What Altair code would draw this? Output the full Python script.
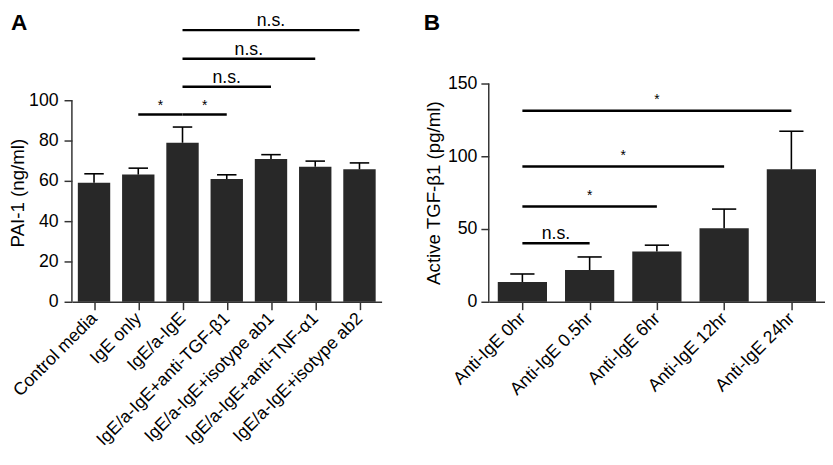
import json
import altair as alt
import pandas as pd

# ---------------- data ----------------
a_categories = ["Control media", "IgE only", "IgE/a-IgE", "IgE/a-IgE+anti-TGF-β1",
                "IgE/a-IgE+isotype ab1", "IgE/a-IgE+anti-TNF-α1", "IgE/a-IgE+isotype ab2"]
a_means = [59.0, 63.1, 78.9, 60.9, 70.9, 67.0, 65.7]
a_errors = [4.5, 3.2, 7.8, 2.1, 2.1, 2.8, 3.2]
a_sig_from = [1, 2, 2, 2, 2]
a_sig_to = [2, 3, 4, 5, 6]
a_sig_text = ["*", "*", "n.s.", "n.s.", "n.s."]
a_sig_level = [92.9, 92.9, 106.7, 120.6, 134.8]
a_axis_max = 100

b_categories = ["Anti-IgE 0hr", "Anti-IgE 0.5hr", "Anti-IgE 6hr", "Anti-IgE 12hr", "Anti-IgE 24hr"]
b_means = [13.6, 21.8, 34.5, 50.5, 91.0]
b_errors = [5.5, 9.0, 4.4, 13.2, 26.2]
b_sig_from = [0, 0, 0, 0]
b_sig_to = [1, 2, 3, 4]
b_sig_text = ["n.s.", "*", "*", "*"]
b_sig_level = [40.2, 65.5, 93.0, 131.3]
b_axis_max = 150

FONT = "Liberation Sans"
BAR_COLOR = "#282828"
AXIS_COLOR = "#333333"
HEIGHT = 222
A_SPAN = 205  # pixels covered by panel A's 0..100 axis


def panel(cats, means, errs, s_from, s_to, s_text, s_level, axis_max, scale_max, yvalues,
          ytitle, letter, width, letter_x, letter_y, cap_half, title_pad, label_pad, star_dy):
    n = len(cats)
    bars = pd.DataFrame({"i": list(range(n)), "cat": cats, "mean": means, "err": errs})
    sig = pd.DataFrame({"a": s_from, "b": s_to, "text": s_text, "level": s_level})

    xscale = alt.Scale(domain=[-0.5, n - 0.5], nice=False, zero=False)
    yscale = alt.Scale(domain=[0, scale_max], nice=False)
    xaxis = alt.Axis(values=list(range(n)), labelExpr=json.dumps(cats) + "[datum.value]",
                     labelAngle=-45, labelAlign="right", labelBaseline="middle",
                     labelOverlap=False, labelFlush=False, labelBound=False,
                     labelLimit=400, title=None, grid=False, labelPadding=6)
    yaxis = alt.Axis(values=yvalues, grid=False, domain=False, titlePadding=title_pad,
                     labelPadding=label_pad)

    base = alt.Chart(bars).transform_calculate(
        lo="datum.i - 0.366", hi="datum.i + 0.366", top="datum.mean + datum.err",
        clo="datum.i - " + str(cap_half), chi="datum.i + " + str(cap_half))

    bar = base.mark_bar(color=BAR_COLOR).encode(
        x=alt.X("lo:Q", scale=xscale, axis=xaxis),
        x2="hi:Q",
        y=alt.Y("mean:Q", scale=yscale, axis=yaxis, title=ytitle),
        y2=alt.datum(0),
    )
    err = base.mark_rule(color="black", strokeWidth=1.6).encode(
        x="i:Q", y="mean:Q", y2="top:Q")
    cap = base.mark_rule(color="black", strokeWidth=1.6).encode(
        x="clo:Q", x2="chi:Q", y="top:Q")

    # y-axis line, from 0 to the last labelled value
    yline = alt.Chart(pd.DataFrame({"lo": [0], "hi": [axis_max]})).mark_rule(
        color=AXIS_COLOR, strokeWidth=1.5).encode(
        x=alt.value(0), y="lo:Q", y2="hi:Q")

    sbase = alt.Chart(sig).transform_calculate(mid="(datum.a + datum.b) / 2")
    lines = sbase.mark_rule(color="black", strokeWidth=2.4).encode(
        x="a:Q", x2="b:Q", y="level:Q")
    ns = sbase.transform_filter("datum.text != '*'").mark_text(
        font=FONT, fontSize=18, baseline="alphabetic", dy=-4, color="black").encode(
        x="mid:Q", y="level:Q", text="text:N")
    stars = sbase.transform_filter("datum.text == '*'").mark_text(
        font=FONT, fontSize=14, baseline="alphabetic", dy=star_dy, color="black").encode(
        x="mid:Q", y="level:Q", text="text:N")

    let = alt.Chart(pd.DataFrame({"letter": [letter]})).mark_text(
        font=FONT, fontSize=23, fontWeight="bold", align="left", baseline="alphabetic",
        color="black").encode(x=alt.value(letter_x), y=alt.value(letter_y), text="letter:N")

    return alt.layer(bar, err, cap, yline, lines, ns, stars, let).properties(
        width=width, height=HEIGHT)


pa = panel(a_categories, a_means, a_errors, a_sig_from, a_sig_to, a_sig_text, a_sig_level,
           a_axis_max, a_axis_max * HEIGHT / A_SPAN, [0, 20, 40, 60, 80, 100], "PAI-1 (ng/ml)",
           "A", 315, -62, -54, 0.22, 1, 6, -5)
pb = panel(b_categories, b_means, b_errors, b_sig_from, b_sig_to, b_sig_text, b_sig_level,
           b_axis_max, b_axis_max, [0, 50, 100, 150], "Active TGF-β1 (pg/ml)",
           "B", 342, -66, -54, 0.18, 4, 4, -7)

chart = alt.concat(pa, pb, columns=2, spacing=43).properties(padding=0).configure_view(
    strokeWidth=0).configure_axis(
    domainColor=AXIS_COLOR, domainWidth=1.5, tickColor=AXIS_COLOR, tickWidth=1.5,
    tickSize=8, labelFont=FONT, labelFontSize=18, labelColor="black",
    titleFont=FONT, titleFontSize=19, titleFontWeight="normal", titleColor="black")

chart.save("out.html", embed_options={"renderer": "svg", "actions": False})
